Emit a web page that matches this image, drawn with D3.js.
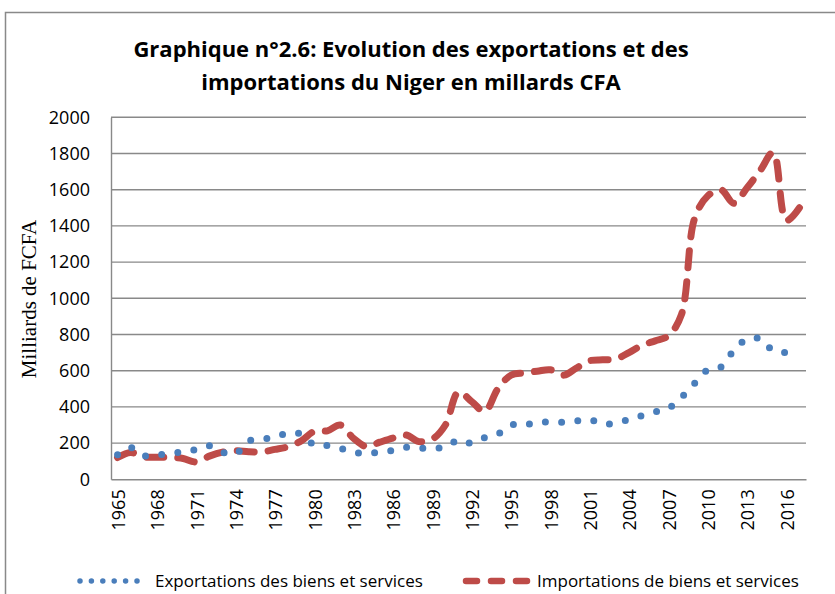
<!DOCTYPE html>
<html>
<head>
<meta charset="utf-8">
<script src="https://cdn.jsdelivr.net/npm/d3@7"></script>
<style>
  body { margin: 0; background: #fff; }
  svg { display: block; }
</style>
</head>
<body>
<script>
'use strict';

var years = [1965, 1966, 1967, 1968, 1969, 1970, 1971, 1972, 1973, 1974,
  1975, 1976, 1977, 1978, 1979, 1980, 1981, 1982, 1983, 1984,
  1985, 1986, 1987, 1988, 1989, 1990, 1991, 1992, 1993, 1994,
  1995, 1996, 1997, 1998, 1999, 2000, 2001, 2002, 2003, 2004,
  2005, 2006, 2007, 2008, 2009, 2010, 2011, 2012, 2013, 2014,
  2015, 2016, 2017];

var exportations = [135, 175, 130, 133, 145, 150, 165, 185, 150, 140,
  212, 222, 232, 256, 250, 190, 186, 170, 150, 141,
  152, 160, 177, 172, 172, 178, 217, 200, 230, 250,
  300, 298, 318, 315, 315, 322, 330, 305, 312, 330,
  352, 372, 392, 453, 530, 605, 620, 712, 775, 777,
  710, 700, null];

var importations = [120, 148, 124, 122, 121, 115, 96, 128, 150, 158,
  152, 152, 165, 180, 212, 265, 268, 300, 226, 180,
  205, 228, 245, 208, 222, 300, 482, 430, 375, 500,
  575, 588, 597, 605, 575, 615, 655, 660, 665, 700,
  740, 765, 792, 910, 1440, 1565, 1600, 1525, 1610, 1705,
  1805, 1430, 1500];

var yTicks = [0, 200, 400, 600, 800, 1000, 1200, 1400, 1600, 1800, 2000];
var xLabels = [1965, 1968, 1971, 1974, 1977, 1980, 1983, 1986, 1989, 1992,
  1995, 1998, 2001, 2004, 2007, 2010, 2013, 2016];

var title = ['Graphique n°2.6: Evolution des exportations et des',
  'importations du Niger en millards CFA'];
var yTitle = 'Milliards de FCFA';
var seriesNames = ['Exportations des biens et services',
  'Importations de biens et services'];

var width = 835,
  height = 594,
  plotLeft = 111,
  plotRight = 806,
  plotTop = 117.3,
  plotBottom = 479.3,
  grey = '#898989',
  blue = '#4A7EBB',
  red = '#BE4B48';

var svg = d3.select('body').append('svg')
  .attr('width', width)
  .attr('height', height);

// chart frame
svg.append('path')
  .attr('d', 'M5.5,' + height + 'V12.5H' + width)
  .attr('fill', 'none')
  .attr('stroke', grey)
  .attr('stroke-width', 1.5);

var x = d3.scaleBand().domain(years).range([plotLeft, plotRight]);
var y = d3.scaleLinear().domain([0, 2000]).range([plotBottom, plotTop]);

function cx(yr) {
  return x(yr) + x.bandwidth() / 2;
}

// title
svg.append('g').selectAll('text').data(title).enter().append('text')
  .attr('x', 411)
  .attr('y', function(d, i) { return 57 + i * 33; })
  .attr('text-anchor', 'middle')
  .style('font-family', 'Open Sans')
  .style('font-weight', 'bold')
  .style('font-size', '22px')
  .attr('fill', '#000')
  .text(function(d) { return d; });

// grid lines
svg.append('g').selectAll('line').data(yTicks.slice(1)).enter().append('line')
  .attr('x1', plotLeft)
  .attr('x2', plotRight)
  .attr('y1', function(d) { return y(d); })
  .attr('y2', function(d) { return y(d); })
  .attr('stroke', grey)
  .attr('stroke-width', 1.4);

// axes
var yAxis = svg.append('g')
  .attr('transform', 'translate(' + plotLeft + ',0)')
  .call(d3.axisLeft(y).tickValues(yTicks).tickFormat(d3.format('d'))
    .tickSize(0).tickPadding(21));
yAxis.select('.domain').attr('stroke', grey).attr('stroke-width', 1.4);
yAxis.selectAll('text')
  .style('font-family', 'Open Sans')
  .style('font-size', '18px')
  .attr('fill', '#000');

var xAxis = svg.append('g')
  .attr('transform', 'translate(0,' + plotBottom + ')')
  .call(d3.axisBottom(x).tickValues(xLabels).tickSize(0).tickPadding(10));
xAxis.select('.domain').attr('stroke', grey).attr('stroke-width', 1.4);
xAxis.selectAll('text')
  .style('font-family', 'Open Sans')
  .style('font-size', '18px')
  .attr('fill', '#000')
  .attr('text-anchor', 'end')
  .attr('transform', 'rotate(-90)')
  .attr('x', -10)
  .attr('y', 1)
  .attr('dy', '0.35em');

svg.append('text')
  .attr('transform', 'translate(36,299) rotate(-90)')
  .attr('text-anchor', 'middle')
  .style('font-family', 'Liberation Serif')
  .style('font-size', '21px')
  .attr('fill', '#000')
  .text(yTitle);

// series
var line = function(values) {
  return d3.line()
    .defined(function(d, i) { return values[i] !== null; })
    .x(function(d) { return cx(d); })
    .y(function(d, i) { return y(values[i]); })
    .curve(d3.curveCatmullRom.alpha(0.5))(years);
};

svg.append('path')
  .attr('d', line(importations))
  .attr('fill', 'none')
  .attr('stroke', red)
  .attr('stroke-width', 7)
  .attr('stroke-linecap', 'round')
  .attr('stroke-dasharray', '17,14');

var expPath = svg.append('path')
  .attr('d', line(exportations))
  .attr('fill', 'none')
  .attr('stroke', blue)
  .attr('stroke-width', 7)
  .attr('stroke-linecap', 'round');

// spread the dots so the last one lands near the end of the line
var len = expPath.node().getTotalLength() - 3;
var dotGap = len / Math.round(len / 16.4);
expPath.attr('stroke-dasharray', '0,' + dotGap);

// legend
var legend = svg.append('g');
legend.append('line')
  .attr('x1', 80).attr('x2', 137)
  .attr('y1', 581).attr('y2', 581)
  .attr('stroke', blue)
  .attr('stroke-width', 5.5)
  .attr('stroke-linecap', 'round')
  .attr('stroke-dasharray', '0,11.4');
legend.append('line')
  .attr('x1', 466).attr('x2', 528)
  .attr('y1', 581).attr('y2', 581)
  .attr('stroke', red)
  .attr('stroke-width', 6.5)
  .attr('stroke-linecap', 'round')
  .attr('stroke-dasharray', '11,14');
legend.selectAll('text').data(seriesNames).enter().append('text')
  .attr('x', function(d, i) { return i === 0 ? 155 : 537; })
  .attr('y', 587)
  .style('font-family', 'Open Sans')
  .style('font-size', '17px')
  .attr('fill', '#000')
  .text(function(d) { return d; });
</script>
</body>
</html>
